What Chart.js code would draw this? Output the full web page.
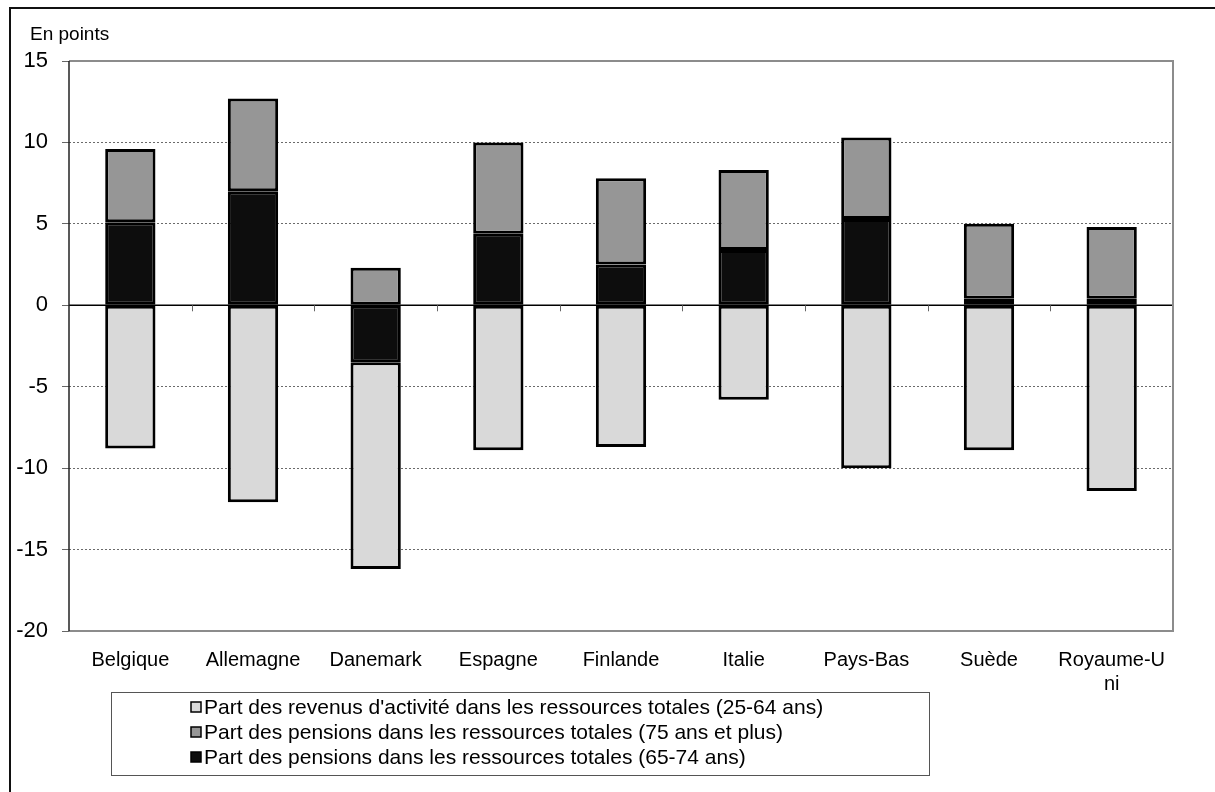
<!DOCTYPE html>
<html lang="fr">
<head>
<meta charset="utf-8">
<title>Parts des ressources totales</title>
<script src="https://cdn.jsdelivr.net/npm/chart.js@4"></script>
<style>
  body { margin: 0; background: #fff; }
  #wrap { width: 1215px; height: 792px; }
</style>
</head>
<body>
<div id="wrap"><canvas id="barChart" width="1215" height="792"></canvas></div>
<script>
// Pays
const categories = ['Belgique', 'Allemagne', 'Danemark', 'Espagne', 'Finlande', 'Italie', 'Pays-Bas', 'Suède', ['Royaume-U', 'ni']];

// Ecarts en points
const pensions6574 = [5.1, 7.0, -3.5, 4.4, 2.5, 3.4, 5.3, 0.4, 0.4];
const revenusActivite = [-8.8, -12.1, -12.7, -8.9, -8.7, -5.8, -10.0, -8.9, -11.4];
const pensions75plus = [4.5, 5.7, 2.3, 5.6, 5.3, 4.9, 5.0, 4.6, 4.4];

const yTicks = [-20, -15, -10, -5, 0, 5, 10, 15];

const FONT = '"Liberation Sans", Arial, sans-serif';

// order in the box under the chart
const legendOrder = [1, 2, 0];

const decor = {
  id: 'decor',
  beforeDraw(chart) {
    const c = chart.ctx;
    c.save();
    c.fillStyle = '#fff';
    c.fillRect(0, 0, chart.width, chart.height);
    c.restore();
  },
  beforeDatasetsDraw(chart) {
    const c = chart.ctx;
    const a = chart.chartArea;
    const y0 = chart.scales.y.getPixelForValue(0);
    const n = categories.length;
    const step = (a.right - a.left) / n;
    c.save();
    // axe horizontal a zero
    c.strokeStyle = '#000';
    c.lineWidth = 1.5;
    c.beginPath();
    c.moveTo(a.left, y0);
    c.lineTo(a.right, y0);
    c.stroke();
    // graduations entre les pays
    c.strokeStyle = '#666';
    c.lineWidth = 1;
    for (let i = 1; i <= n; i++) {
      const x = Math.round(a.left + i * step) + 0.5;
      c.beginPath();
      c.moveTo(x, y0);
      c.lineTo(x, y0 + 6);
      c.stroke();
    }
    c.restore();
  },
  afterDraw(chart) {
    const c = chart.ctx;
    const a = chart.chartArea;
    c.save();
    // cadre de la zone de tracé
    c.strokeStyle = '#8c8c8c';
    c.lineWidth = 2;
    c.beginPath();
    c.moveTo(a.left, a.top);
    c.lineTo(a.right, a.top);
    c.lineTo(a.right, a.bottom);
    c.lineTo(a.left, a.bottom);
    c.stroke();
    c.strokeStyle = '#222';
    c.lineWidth = 1.5;
    c.beginPath();
    c.moveTo(a.left, a.top);
    c.lineTo(a.left, a.bottom);
    c.stroke();

    // cadre extérieur
    c.strokeStyle = '#111';
    c.lineWidth = 2;
    c.beginPath();
    c.moveTo(10, chart.height);
    c.lineTo(10, 8);
    c.lineTo(chart.width, 8);
    c.stroke();

    // unité
    c.fillStyle = '#000';
    c.font = '19px ' + FONT;
    c.textBaseline = 'alphabetic';
    c.fillText('En points', 30, 40);

    // légende
    c.strokeStyle = '#555';
    c.lineWidth = 1;
    c.strokeRect(111.5, 692.5, 818, 83);
    c.font = '21px ' + FONT;
    c.textBaseline = 'middle';
    legendOrder.forEach((di, k) => {
      const ds = chart.data.datasets[di];
      const yc = 707 + k * 25;
      c.fillStyle = ds.backgroundColor;
      c.fillRect(191, yc - 5, 10, 10);
      c.strokeStyle = '#000';
      c.lineWidth = 1.5;
      c.strokeRect(191, yc - 5, 10, 10);
      c.fillStyle = '#000';
      c.fillText(ds.label, 204, yc + 1);
    });
    c.restore();
  }
};

const ctxBar = document.getElementById('barChart').getContext('2d');
new Chart(ctxBar, {
  type: 'bar',
  data: {
    labels: categories,
    datasets: [{
      label: 'Part des pensions dans les ressources totales (65-74 ans)',
      data: pensions6574,
      backgroundColor: '#0d0d0d'
    }, {
      label: "Part des revenus d'activité dans les ressources totales (25-64 ans)",
      data: revenusActivite,
      backgroundColor: '#d9d9d9'
    }, {
      label: 'Part des pensions dans les ressources totales (75 ans et plus)',
      data: pensions75plus,
      backgroundColor: '#969696'
    }]
  },
  options: {
    responsive: false,
    animation: false,
    datasets: {
      bar: {
        borderColor: '#000',
        borderWidth: 3,
        borderSkipped: false,
        categoryPercentage: 1,
        barPercentage: 0.41
      }
    },
    layout: { padding: { top: 61, right: 42, left: 0, bottom: 0 } },
    plugins: {
      legend: { display: false },
      tooltip: { enabled: false }
    },
    scales: {
      x: {
        stacked: true,
        grid: { display: false, drawTicks: false },
        border: { display: false },
        ticks: {
          color: '#000',
          font: { family: FONT, size: 20 },
          padding: 17,
          maxRotation: 0,
          autoSkip: false
        },
        afterFit: s => { s.height = 161; }
      },
      y: {
        stacked: true,
        min: -20,
        max: 15,
        afterBuildTicks: s => { s.ticks = yTicks.map(v => ({ value: v })); },
        grid: {
          color: ctx => ([0, 15, -20].includes(ctx.tick.value) ? 'rgba(0,0,0,0)' : '#6a6a6a'),
          lineWidth: 1,
          tickColor: '#666',
          tickLength: 7,
          tickBorderDash: []
        },
        border: { display: false, dash: [2, 2] },
        ticks: {
          color: '#000',
          font: { family: FONT, size: 22 },
          padding: 14
        },
        afterFit: s => { s.width = 69; }
      }
    }
  },
  plugins: [decor]
});
</script>
</body>
</html>
